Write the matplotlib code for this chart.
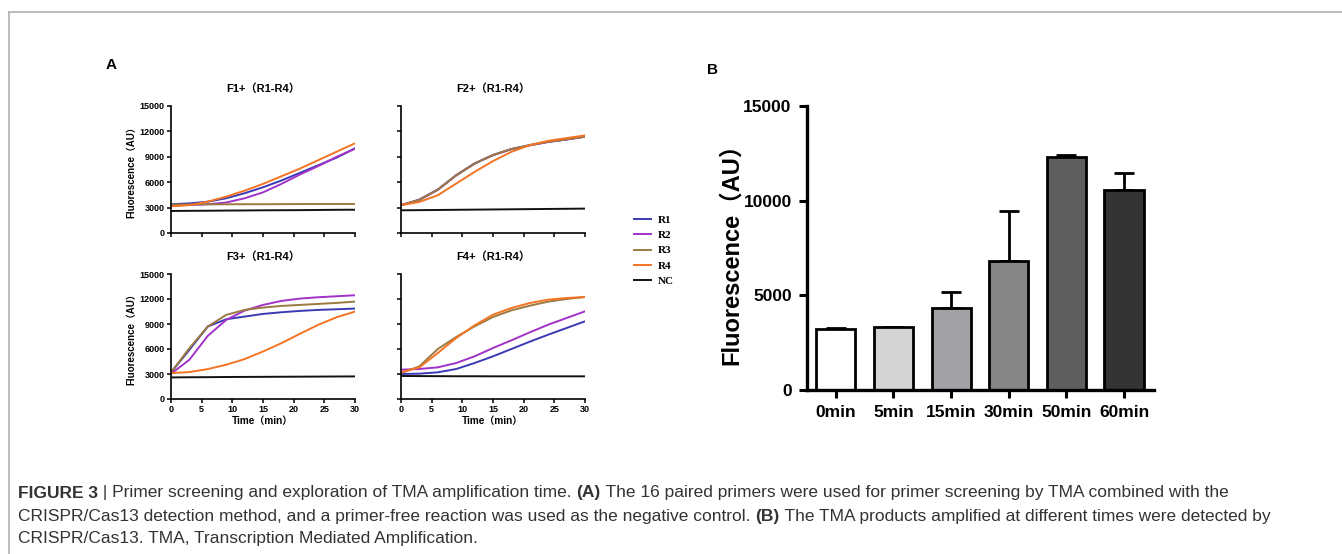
"""
Figure 3 recreation: TMA primer screening curves (A) and amplification-time bars (B).
"""

import matplotlib
matplotlib.use('Agg')
import matplotlib.pyplot as plt
from matplotlib.lines import Line2D

# ---- Data ------------------------------------------------------------
TIME = [0, 3, 6, 9, 12, 15, 18, 21, 24, 27, 30]
SERIES = ['R1', 'R2', 'R3', 'R4', 'NC']

F1 = {
    'R1': [3400, 3500, 3700, 4100, 4700, 5400, 6200, 7100, 8000, 8900, 10000],
    'R2': [3250, 3300, 3400, 3600, 4100, 4800, 5800, 6900, 7900, 9000, 9950],
    'R3': [3350, 3370, 3380, 3390, 3400, 3400, 3410, 3420, 3420, 3430, 3430],
    'R4': [3150, 3300, 3700, 4300, 5000, 5800, 6700, 7600, 8600, 9600, 10600],
    'NC': [2600, 2620, 2630, 2650, 2660, 2680, 2690, 2700, 2720, 2740, 2750],
}
F2 = {
    'R1': [3280, 3950, 5130, 6830, 8210, 9200, 9910, 10380, 10780, 11050, 11370],
    'R2': [3280, 3900, 5100, 6800, 8200, 9200, 9900, 10350, 10750, 11050, 11400],
    'R3': [3280, 3920, 5120, 6820, 8200, 9210, 9920, 10370, 10770, 11060, 11380],
    'R4': [3280, 3670, 4460, 5840, 7220, 8490, 9590, 10380, 10890, 11210, 11530],
    'NC': [2680, 2700, 2720, 2740, 2760, 2780, 2800, 2820, 2840, 2860, 2880],
}
F3 = {
    'R1': [3190, 5900, 8700, 9570, 9890, 10210, 10410, 10570, 10690, 10770, 10850],
    'R2': [3030, 4710, 7580, 9490, 10610, 11290, 11770, 12050, 12210, 12330, 12450],
    'R3': [3190, 6100, 8700, 10090, 10690, 10970, 11170, 11290, 11410, 11530, 11690],
    'R4': [3110, 3230, 3590, 4110, 4790, 5700, 6700, 7820, 8900, 9810, 10490],
    'NC': [2590, 2610, 2620, 2640, 2650, 2660, 2670, 2680, 2690, 2700, 2710],
}
F4 = {
    'R1': [3000, 3040, 3200, 3600, 4320, 5120, 6000, 6880, 7720, 8520, 9320],
    'R2': [3520, 3600, 3800, 4320, 5120, 6120, 7040, 8000, 8920, 9720, 10520],
    'R3': [3120, 3920, 6000, 7440, 8720, 9840, 10640, 11200, 11680, 12000, 12240],
    'R4': [3200, 3800, 5520, 7320, 8840, 10120, 10920, 11520, 11920, 12120, 12240],
    'NC': [2760, 2750, 2740, 2730, 2730, 2720, 2720, 2720, 2720, 2720, 2720],
}
PANELS = [('F1+（R1-R4）', F1), ('F2+（R1-R4）', F2),
          ('F3+（R1-R4）', F3), ('F4+（R1-R4）', F4)]

BAR_LABELS = ['0min', '5min', '15min', '30min', '50min', '60min']
BAR_MEANS = [3220, 3310, 4350, 6810, 12290, 10550]
BAR_ERR = [60, 40, 810, 2640, 140, 930]

CAPTION = [
    ('FIGURE 3', ' | Primer screening and exploration of TMA amplification time. ',
     '(A)', ' The 16 paired primers were used for primer screening by TMA combined with the'),
    ('', 'CRISPR/Cas13 detection method, and a primer-free reaction was used as the negative control. ',
     '(B)', ' The TMA products amplified at different times were detected by'),
    ('', 'CRISPR/Cas13. TMA, Transcription Mediated Amplification.', '', ''),
]

# ---- Style -----------------------------------------------------------
COLORS = {'R1': '#3a3ab4', 'R2': '#a232c8', 'R3': '#9a7a40',
          'R4': '#f47424', 'NC': '#111111'}
BAR_COLORS = ['#ffffff', '#d4d4d4', '#a2a2a6', '#858585', '#5e5e5e', '#343434']
SANS = ['Liberation Sans', 'Noto Sans CJK SC', 'DejaVu Sans']
plt.rcParams['font.family'] = SANS

W, H = 1342, 554
fig = plt.figure(figsize=(W / 100, H / 100), dpi=100)


def px_axes(x0, y0, x1, y1):
    """Axes from pixel box (top-left origin)."""
    return fig.add_axes([x0 / W, 1 - y1 / H, (x1 - x0) / W, (y1 - y0) / H])


# Frame lines
fig.add_artist(Line2D([9 / W, 1], [1 - 12 / H, 1 - 12 / H], color='#b0b0b0', lw=1.2))
fig.add_artist(Line2D([9 / W, 9 / W], [0, 1 - 12 / H], color='#b0b0b0', lw=1.2))

# ---- Panel A ---------------------------------------------------------
boxes = [(171, 106, 355, 233), (401, 106, 585, 233),
         (171, 274, 355, 399), (401, 274, 585, 399)]
for i, ((title, data), box) in enumerate(zip(PANELS, boxes)):
    ax = px_axes(*box)
    for s in SERIES:
        ax.plot(TIME, data[s], color=COLORS[s], lw=1.4, label=s)
    ax.set_xlim(0, 30)
    ax.set_ylim(0, 15000)
    ax.set_xticks(range(0, 31, 5))
    ax.set_yticks(range(0, 15001, 3000))
    for sp in ('top', 'right'):
        ax.spines[sp].set_visible(False)
    for sp in ('left', 'bottom'):
        ax.spines[sp].set_linewidth(1.2)
    ax.tick_params(direction='out', length=3, width=1.1, labelsize=6.5, pad=1.5)
    for lab in ax.get_xticklabels() + ax.get_yticklabels():
        lab.set_fontweight('bold')
    ax.set_title(title, fontsize=8, fontweight='bold', pad=10)
    if i % 2 == 1:
        ax.set_yticklabels([])
    else:
        ax.set_ylabel('Fluorescence（AU）', fontsize=7, fontweight='bold', labelpad=2)
    if i < 2:
        ax.set_xticklabels([])
    else:
        ax.set_xlabel('Time（min）', fontsize=7.2, fontweight='bold', labelpad=1)
    if i == 1:
        handles, labels = ax.get_legend_handles_labels()

fig.legend(handles, labels, loc='upper left', bbox_to_anchor=(624 / W, 1 - 205 / H),
           frameon=False, handlelength=1.5, handletextpad=0.6, labelspacing=0.5,
           prop={'family': 'Liberation Serif', 'weight': 'bold', 'size': 8})

fig.text(106 / W, 1 - 65 / H, 'A', fontsize=11, fontweight='bold', va='center')
fig.text(707 / W, 1 - 70 / H, 'B', fontsize=11, fontweight='bold', va='center')

# ---- Panel B ---------------------------------------------------------
axb = px_axes(807, 106, 1154, 390)
xs = list(range(len(BAR_LABELS)))
axb.bar(xs, BAR_MEANS, width=0.68, color=BAR_COLORS, edgecolor='black', linewidth=2,
        zorder=2)
axb.errorbar(xs, BAR_MEANS, yerr=[[0] * len(xs), BAR_ERR], fmt='none', ecolor='black',
             elinewidth=2, capsize=7, capthick=2, zorder=1)
axb.set_xlim(-0.5, 5.52)
axb.set_ylim(0, 15000)
axb.set_yticks([0, 5000, 10000, 15000])
axb.set_xticks(xs)
axb.set_xticklabels(BAR_LABELS)
for sp in ('top', 'right'):
    axb.spines[sp].set_visible(False)
for sp in ('left', 'bottom'):
    axb.spines[sp].set_linewidth(2.4)
axb.tick_params(direction='out', length=6, width=2.2, labelsize=12.5, pad=5)
for lab in axb.get_xticklabels() + axb.get_yticklabels():
    lab.set_fontweight('bold')
axb.set_ylabel('Fluorescence（AU）', fontsize=17, fontweight='bold', labelpad=0)

# ---- Caption ---------------------------------------------------------
CAP = ['Liberation Sans', 'DejaVu Sans']
fig.canvas.draw()
renderer = fig.canvas.get_renderer()
for row, parts in enumerate(CAPTION):
    x = 18 / W
    y = 1 - (493 + 23 * row) / H
    for j, part in enumerate(parts):
        if not part:
            continue
        bold = j in (0, 2)
        t = fig.text(x, y, part, fontsize=12.5, family=CAP,
                     fontweight='bold' if bold else 'normal', va='center',
                     color='#333333')
        bb = t.get_window_extent(renderer)
        x += bb.width / W

fig.savefig('out.png', dpi=100)
